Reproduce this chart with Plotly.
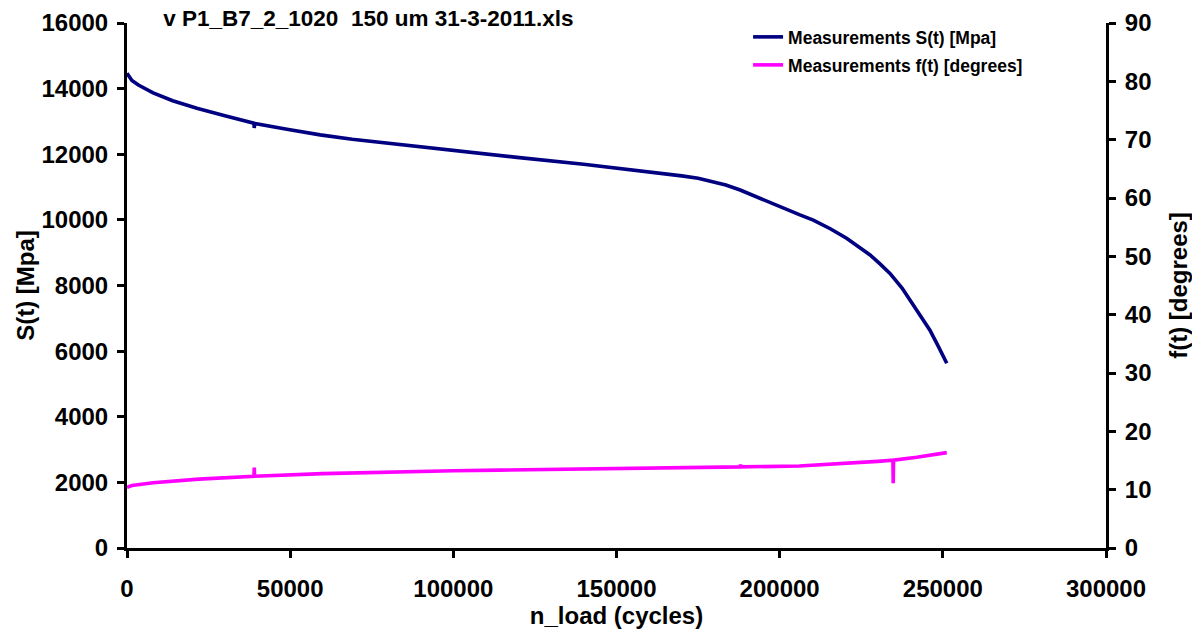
import plotly.graph_objects as go

# Fatigue test record: stress and angle against number of load cycles
cycles_s = [0, 500, 1500, 3500, 8000, 14000, 21400, 30000, 38900, 39000, 39100,
            49000, 59200, 69000, 79600, 90000, 102000, 119500, 139900, 160300,
            170000, 175000, 179700, 183500, 187900, 192000, 196000, 200000,
            203000, 206200, 210300, 215500, 220500, 224000, 227700, 230500,
            233800, 237500, 241000, 243500, 246000, 248500, 251200]
stress = [14470, 14380, 14250, 14110, 13870, 13630, 13400, 13170, 12945, 12800, 12940,
          12760, 12590, 12455, 12335, 12215, 12080, 11905, 11695, 11470,
          11340, 11270, 11165, 11060, 10910, 10740, 10555, 10400,
          10285, 10150, 9995, 9730, 9440, 9200, 8930, 8680,
          8370, 7920, 7405, 7050, 6645, 6170, 5630]

cycles_f = [0, 1500, 8000, 22000, 38900, 39000, 39100, 60000, 85000, 100000,
            114000, 130000, 150000, 170000, 187900, 188000, 188100, 206000,
            215000, 225000, 230000, 234700, 234800, 234900, 242000, 248000,
            251200]
angle = [10.4, 10.7, 11.2, 11.8, 12.3, 13.8, 12.3, 12.75, 13.1, 13.25,
         13.35, 13.5, 13.6, 13.75, 13.9, 14.3, 13.9, 14.06,
         14.3, 14.65, 14.85, 15.05, 11.1, 15.05, 15.55, 16.0,
         16.35]

x_ticks = [0, 50000, 100000, 150000, 200000, 250000, 300000]

FONT = "Liberation Sans, Arial, sans-serif"

fig = go.Figure()
fig.add_trace(go.Scatter(
    x=cycles_s, y=stress, mode="lines", name="Measurements S(t) [Mpa]",
    line=dict(color="#000080", width=3.6), legend="legend"))
fig.add_trace(go.Scatter(
    x=cycles_f, y=angle, mode="lines", name="Measurements f(t) [degrees]",
    line=dict(color="#FF00FF", width=3.6), yaxis="y2", legend="legend2"))

axis_common = dict(
    showgrid=False, zeroline=False, showline=True, linecolor="black",
    linewidth=3, ticks="outside", ticklen=7, tickwidth=3, tickcolor="black",
    automargin=False,
    tickfont=dict(family=FONT, size=24, color="black", weight="bold"),
)

fig.update_layout(
    width=1192, height=630,
    margin=dict(l=127, r=86, t=23, b=82, autoexpand=False),
    paper_bgcolor="white", plot_bgcolor="white",
    font=dict(family=FONT, color="black", weight="bold"),
    title=dict(
        text="v P1_B7_2_1020 \u00a0150 um 31-3-2011.xls",
        font=dict(family=FONT, size=22.5, color="black", weight="bold"),
        xref="paper", x=0.037, xanchor="left",
        yref="container", y=1 - 18 / 630, yanchor="middle"),
    xaxis=dict(
        range=[0, 300000], tickvals=x_ticks, tickformat="d",
        ticklabelstandoff=10,
        title=dict(text="n_load (cycles)", standoff=2,
                   font=dict(family=FONT, size=24, color="black", weight="bold")),
        **axis_common),
    yaxis=dict(
        range=[0, 16000], dtick=2000, tickformat="d",
        ticklabelstandoff=4,
        title=dict(text="S(t) [Mpa]", standoff=1,
                   font=dict(family=FONT, size=24, color="black", weight="bold")),
        **axis_common),
    yaxis2=dict(
        range=[0, 90], dtick=10, overlaying="y", side="right",
        ticklabelstandoff=4,
        title=dict(text="f(t) [degrees]", standoff=20,
                   font=dict(family=FONT, size=24, color="black", weight="bold")),
        **axis_common),
    legend=dict(
        x=0.6344, xanchor="left", y=(548 - 37) / 525, yanchor="middle",
        bgcolor="rgba(0,0,0,0)", borderwidth=0,
        font=dict(family=FONT, size=17.5, color="black", weight="bold")),
    legend2=dict(
        x=0.6344, xanchor="left", y=(548 - 65) / 525, yanchor="middle",
        bgcolor="rgba(0,0,0,0)", borderwidth=0,
        font=dict(family=FONT, size=17.5, color="black", weight="bold")),
    showlegend=True,
)

fig.write_html("out.html")
